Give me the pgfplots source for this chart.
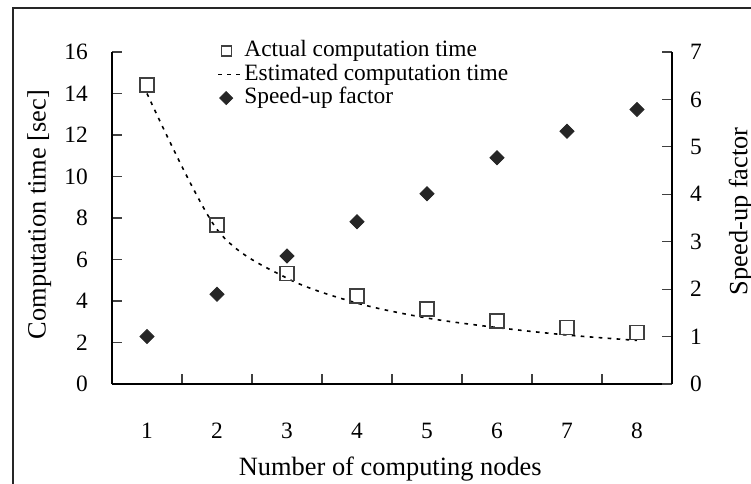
\documentclass[border=0pt]{standalone}
\usepackage{fontspec}
\setmainfont{Liberation Serif}
\usepackage{pgfplots}
\pgfplotsset{compat=1.18}
\newcommand\fs{\fontsize{11.7bp}{14bp}\selectfont}
\newcommand\fl{\fontsize{13.2bp}{15.8bp}\selectfont}
\pgfplotsset{
 sqleg/.style={legend image code/.code={\draw[##1, mark size=2.5bp] plot coordinates {(4bp,0bp)};}},
 markleg/.style={legend image code/.code={\draw[##1] plot coordinates {(4bp,0bp)};}},
 lineleg/.style={legend image code/.code={\draw[##1] (0bp,0bp) -- (11.5bp,0bp);}},
}
\begin{document}
\fs
\begin{tikzpicture}
\path[use as bounding box] (0,0) rectangle (375.5bp,242bp);
\draw[line width=1bp, black!85] (6.25bp,0) -- (6.25bp,238bp) -- (375.5bp,238bp);
\pgfplotsset{
 common/.style={
  scale only axis, width=280bp, height=166bp,
  at={(56bp,50bp)}, anchor=south west,
  xmin=0.5, xmax=8.5,
  tick align=inside,
  axis line style={-, line width=0.8bp, black},
  every outer x axis line/.append style={-},
  every outer y axis line/.append style={-},
  /pgf/number format/assume math mode=true,
  major tick length=5bp,
  tick style={black!75, line width=0.6bp},
  label style={font=\fl},
 }
}
\begin{axis}[common,
  axis x line*=bottom, axis y line*=left,
  ymin=0, ymax=16, ytick={0,2,...,16},
  xtick={0.5,1.5,...,8.5}, xticklabels={},
  extra x ticks={1,2,3,4,5,6,7,8},
  extra x tick labels={1,2,3,4,5,6,7,8},
  extra x tick style={major tick length=0pt, xticklabel style={yshift=-15.5bp}},
  yticklabel style={xshift=-8bp},
  xlabel={Number of computing nodes},
  ylabel={Computation time [sec]},
  xlabel style={at={(axis description cs:0.497,-0.255)}, anchor=center},
  ylabel style={at={(axis description cs:-0.13,0.51)}, anchor=center},
  legend style={draw=none, fill=none, inner sep=0pt, font=\fs,
    at={(axis description cs:0.1875,1.040)}, anchor=north west,
    row sep=0pt,
    nodes={text height=8.8bp, text depth=3bp, inner ysep=0pt, inner xsep=1.2bp}},
  legend cell align=left,
]
\addplot[only marks, mark=square, mark size=3.5bp, mark options={draw=black!75, line width=0.6bp}, sqleg]
  coordinates {(1,14.41)(2,7.66)(3,5.33)(4,4.24)(5,3.61)(6,3.04)(7,2.71)(8,2.49)};
\addlegendentry{Actual computation time}
\addplot[black, line width=0.8bp, dash pattern=on 1.8bp off 2.7bp, smooth, no marks, lineleg]
  coordinates {(1,14.0)(2,7.45)(3,5.1)(4,3.9)(5,3.18)(6,2.72)(7,2.36)(8,2.1)};
\addlegendentry{Estimated computation time}
\addlegendimage{only marks, mark=square*, mark size=2.3bp, mark options={rotate=45, fill=black!85, draw=black!85}, markleg}
\addlegendentry{Speed-up factor}
\end{axis}
\begin{axis}[common,
  axis x line=none, axis y line*=right,
  ymin=0, ymax=7, ytick={0,1,...,7},
  yticklabel style={xshift=5bp},
  ylabel={Speed-up factor},
  ylabel style={at={(axis description cs:1.123,0.52)}, anchor=center},
]
\addplot[only marks, mark=square*, mark size=2.5bp, mark options={rotate=45, fill=black!85, draw=black!85}]
  coordinates {(1,1.0)(2,1.89)(3,2.70)(4,3.42)(5,4.01)(6,4.77)(7,5.33)(8,5.79)};
\end{axis}
\end{tikzpicture}
\end{document}
